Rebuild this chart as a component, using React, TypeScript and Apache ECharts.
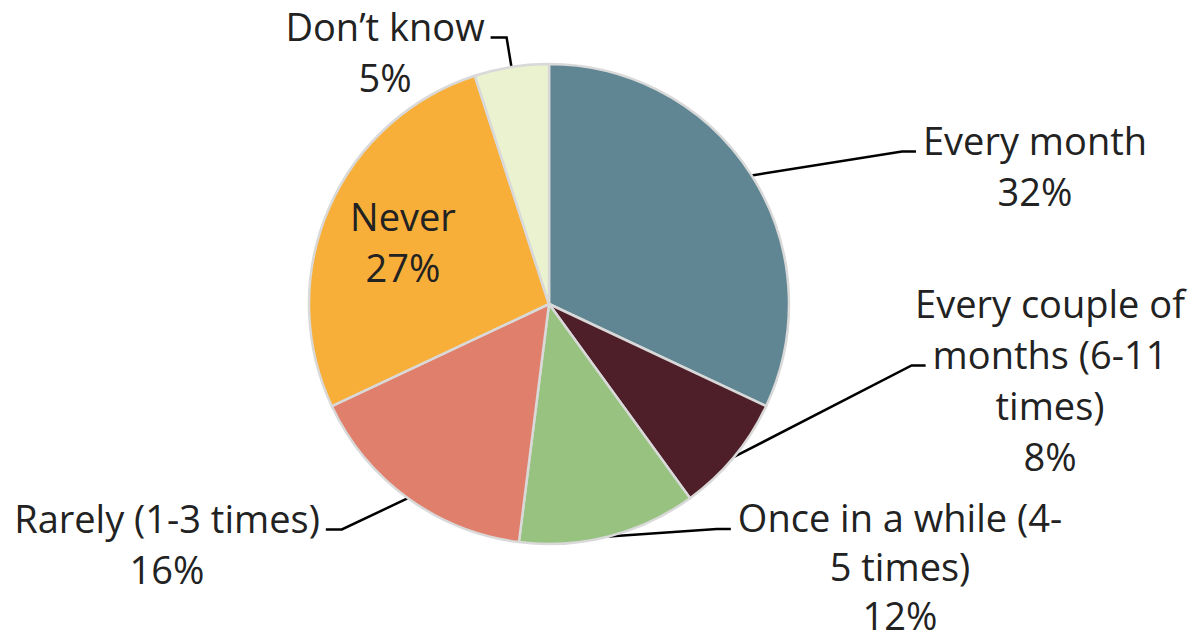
import React, { useEffect, useRef } from "react";
import * as echarts from "echarts";

const categories = [
  "Every month",
  "Every couple of\nmonths (6-11\ntimes)",
  "Once in a while (4-\n5 times)",
  "Rarely (1-3 times)",
  "Never",
  "Don\u2019t know",
];
const values = [32, 8, 12, 16, 27, 5];
const colors = ["#5F8692", "#4E1F29", "#97C27F", "#E07F6B", "#F8AF3A", "#EAF2CF"];

// layout: centre of each text block, line height, and which text line the leader meets (-1 = none)
const labelPos: [number, number][] = [
  [1035, 165],
  [1050, 379],
  [900, 566],
  [167, 543],
  [403, 241],
  [385, 51],
];
const labelLineHeights = [51, 51, 49, 51, 51, 51];
const leaderLineIndex = [0, 1, 0, 0, -1, 0];

const FONT_SIZE = 38;
const FONT_FAMILY = "Open Sans";
const CX = 549;
const CY = 304;

function measure(text: string): number {
  const c = document.createElement("canvas").getContext("2d");
  if (!c) return text.length * FONT_SIZE * 0.5;
  c.font = `${FONT_SIZE}px "${FONT_FAMILY}"`;
  return c.measureText(text).width;
}

export default function App() {
  const ref = useRef<HTMLDivElement>(null);
  useEffect(() => {
    document.body.style.margin = "0";
    if (!ref.current) return;
    const chart = echarts.init(ref.current, undefined, { renderer: "svg" });
    chart.setOption({
      animation: false,
      backgroundColor: "#ffffff",
      series: [
        {
          type: "pie",
          center: [CX, CY],
          radius: 240,
          startAngle: 90,
          clockwise: true,
          avoidLabelOverlap: false,
          itemStyle: { borderColor: "#D9D9D9", borderWidth: 2.5 },
          label: {
            show: true,
            formatter: "{b}\n{d}%",
            fontFamily: FONT_FAMILY,
            fontSize: FONT_SIZE,
            lineHeight: 51,
            color: "#222222",
            align: "center",
          },
          labelLine: {
            show: true,
            length: 20,
            length2: 20,
            lineStyle: { color: "#000000", width: 2.5 },
          },
          labelLayout: (p: any) => {
            const i = p.dataIndex;
            const [x, y] = labelPos[i];
            const lh = labelLineHeights[i];
            const res: any = { x, y, align: "center", verticalAlign: "middle" };
            const k = leaderLineIndex[i];
            if (k >= 0 && p.labelLinePoints && p.labelLinePoints.length) {
              const lines = (categories[i] + "\n" + values[i] + "%").split("\n");
              const top = y - (lines.length * lh) / 2;
              const ly = top + k * lh + lh / 2 + 12;
              const w = measure(lines[k]);
              const start = p.labelLinePoints[0];
              const right = x > CX;
              const endX = right ? x - w / 2 - 7 : x + w / 2 + 6;
              const elbowX = right ? endX - 14 : endX + 16;
              res.labelLinePoints = [
                [start[0], start[1]],
                [elbowX, ly],
                [endX, ly],
              ];
            }
            return res;
          },
          data: categories.map((c, i) => ({
            name: c,
            value: values[i],
            itemStyle: { color: colors[i] },
            label: {
              lineHeight: labelLineHeights[i],
              ...(leaderLineIndex[i] < 0 ? { position: "inside" } : {}),
            },
            ...(leaderLineIndex[i] < 0 ? { labelLine: { show: false } } : {}),
          })),
        },
      ],
    });
    return () => chart.dispose();
  }, []);
  return <div ref={ref} style={{ width: 1201, height: 641 }} />;
}
